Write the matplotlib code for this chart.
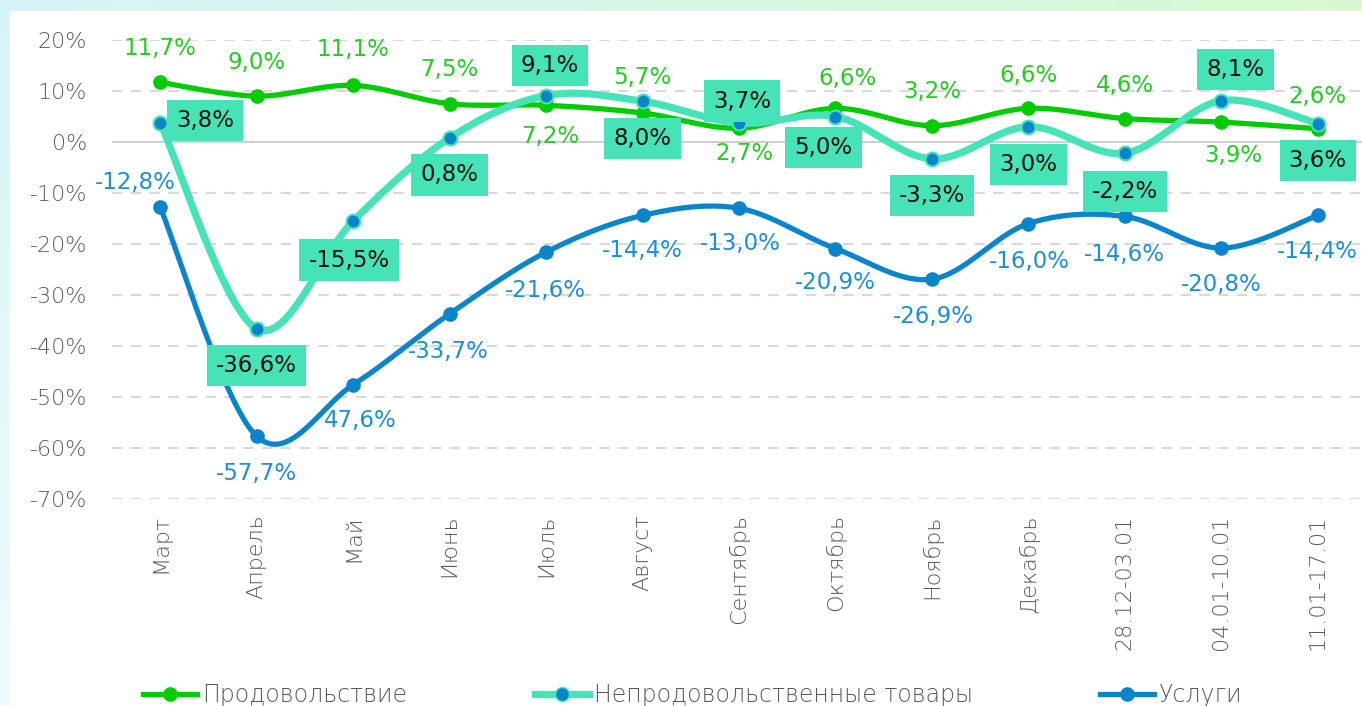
import matplotlib
matplotlib.use("Agg")
import matplotlib.pyplot as plt
import numpy as np
from matplotlib.lines import Line2D
from matplotlib.patches import Rectangle

plt.rcParams["font.family"] = ["DejaVu Sans"]

# Data
categories = ["Март", "Апрель", "Май", "Июнь", "Июль", "Август", "Сентябрь",
              "Октябрь", "Ноябрь", "Декабрь", "28.12-03.01", "04.01-10.01", "11.01-17.01"]
food = [11.7, 9.0, 11.1, 7.5, 7.2, 5.7, 2.7, 6.6, 3.2, 6.6, 4.6, 3.9, 2.6]
nonfood = [3.8, -36.6, -15.5, 0.8, 9.1, 8.0, 3.7, 5.0, -3.3, 3.0, -2.2, 8.1, 3.6]
services = [-12.8, -57.7, -47.6, -33.7, -21.6, -14.4, -13.0, -20.9, -26.9, -16.0, -14.6, -20.8, -14.4]
series_names = ["Продовольствие", "Непродовольственные товары", "Услуги"]
yticks = [20, 10, 0, -10, -20, -30, -40, -50, -60, -70]

# label offsets in pixels (dx, dy) from each point
food_off = [(0, 34), (0, 34), (0, 36), (0, 34), (4, -31), (0, 35), (5, -25),
            (12, 30), (0, 34), (0, 33), (0, 33), (12, -33), (0, 32)]
nonfood_off = [(45, 2), (0, -37), (-4, -39), (0, -37), (4, 30), (0, -37), (3, 22),
               (-12, -31), (0, -37), (0, -38), (0, -38), (14, 31), (0, -37)]
services_off = [(-25, 25), (0, -37), (7, -36), (-1, -38), (-1, -38), (0, -35), (1, -35),
                (0, -34), (1, -37), (1, -38), (0, -38), (0, -36), (0, -36)]

GREEN = "#00CC00"
TEAL = "#45E3B5"
BLUE = "#0A85CC"


def fmt(v):
    return f"{v:.1f}%".replace(".", ",")


def smooth(y, n=40):
    # Bezier smoothing like Excel's "smoothed line"
    pts = np.column_stack([np.arange(len(y)), y]).astype(float)
    p = np.vstack([pts[0], pts, pts[-1]])
    t = np.linspace(0, 1, n)[:, None]
    segs = []
    for i in range(len(pts) - 1):
        p0, p1, p2, p3 = p[i], p[i + 1], p[i + 2], p[i + 3]
        c1 = p1 + (p2 - p0) / 6
        c2 = p2 - (p3 - p1) / 6
        segs.append((1 - t) ** 3 * p1 + 3 * (1 - t) ** 2 * t * c1
                    + 3 * (1 - t) * t ** 2 * c2 + t ** 3 * p2)
    s = np.vstack(segs)
    return s[:, 0], s[:, 1]


fig = plt.figure(figsize=(13.62, 7.06), dpi=100)

# gradient frame behind the white panel
bg = fig.add_axes([0, 0, 1, 1], zorder=-10)
gx = np.linspace(0, 1, 200)
gy = np.linspace(0, 1, 100)[:, None]
c_left = np.array([0.84, 0.96, 0.97])
c_right = np.array([0.85, 0.97, 0.82])
img = c_left[None, None, :] * (1 - gx[None, :, None]) + c_right[None, None, :] * gx[None, :, None]
img = img * (1 - gy[:, :, None] * 0.6) + np.ones(3) * gy[:, :, None] * 0.6
bg.imshow(img, aspect="auto", extent=[0, 1, 0, 1], origin="upper")
bg.add_patch(Rectangle((10 / 1362, 0), 1, 1 - 11 / 706, color="white"))
bg.set_xlim(0, 1)
bg.set_ylim(0, 1)
bg.axis("off")

ax = fig.add_axes([112 / 1362, 1 - 499 / 706, 1254 / 1362, 459 / 706])
ax.set_facecolor("none")
x = np.arange(len(categories))

for yv in yticks:
    if yv == 0:
        ax.axhline(0, color="#d0d0d0", lw=1.5, zorder=1)
    else:
        ax.axhline(yv, color="#d9d9d9", lw=1.5, ls=(0, (5, 4)), zorder=1)

sx, sy = smooth(food)
ax.plot(sx, sy, color=GREEN, lw=3.8, zorder=3, solid_capstyle="round")
ax.plot(x, food, "o", color=GREEN, ms=9.5, zorder=3)

sx, sy = smooth(nonfood)
ax.plot(sx, sy, color=TEAL, lw=5.2, zorder=4, solid_capstyle="round")
ax.plot(x, nonfood, "o", color=BLUE, mec=TEAL, mew=1.5, ms=10, zorder=4)

sx, sy = smooth(services)
ax.plot(sx, sy, color=BLUE, lw=3.8, zorder=5, solid_capstyle="round")
ax.plot(x, services, "o", color=BLUE, ms=9.5, zorder=5)

lab_size = 16.5
for i, v in enumerate(food):
    ax.annotate(fmt(v), (i, v), xytext=food_off[i], textcoords="offset pixels",
                ha="center", va="center", fontsize=lab_size, color="#22CC22", zorder=6)

for i, v in enumerate(nonfood):
    ax.annotate(fmt(v), (i, v), xytext=nonfood_off[i], textcoords="offset pixels",
                ha="center", va="center", fontsize=lab_size, color="#111111", zorder=7,
                bbox=dict(boxstyle="square,pad=0.4", fc=TEAL, ec="none"))

for i, v in enumerate(services):
    label = fmt(v)
    if i == 2:
        label = label.lstrip("-")  # minus sign is hidden in the original
    ax.annotate(label, (i, v), xytext=services_off[i], textcoords="offset pixels",
                ha="center", va="center", fontsize=lab_size, color="#1E8ED6", zorder=6)

ax.set_xlim(-0.5, len(categories) - 0.5)
ax.set_ylim(-70, 20)
ax.set_yticks(yticks)
ax.set_yticklabels([f"{v}%" for v in yticks], fontsize=16, color="#595959",
                   fontweight="light")
ax.set_xticks(x)
ax.set_xticklabels(categories, rotation=90, fontsize=16, color="#595959",
                   fontweight="light", va="top")
ax.tick_params(axis="y", length=0, pad=18)
ax.tick_params(axis="x", length=0, pad=11)
for s in ax.spines.values():
    s.set_visible(False)

handles = [
    Line2D([], [], color=GREEN, lw=3.8, marker="o", ms=9.5),
    Line2D([], [], color=TEAL, lw=5.2, marker="o", mfc=BLUE, mec=TEAL, ms=10),
    Line2D([], [], color=BLUE, lw=3.8, marker="o", ms=9.5),
]
leg = fig.legend(handles, series_names, loc="center", bbox_to_anchor=(693 / 1362, 1 - 695 / 706),
                 ncol=3, frameon=False, handlelength=2.29, handletextpad=0.21,
                 columnspacing=5.4, borderpad=0, prop={"weight": "light", "size": 17})
for t in leg.get_texts():
    t.set_color("#595959")

fig.savefig("out.png", dpi=100)
